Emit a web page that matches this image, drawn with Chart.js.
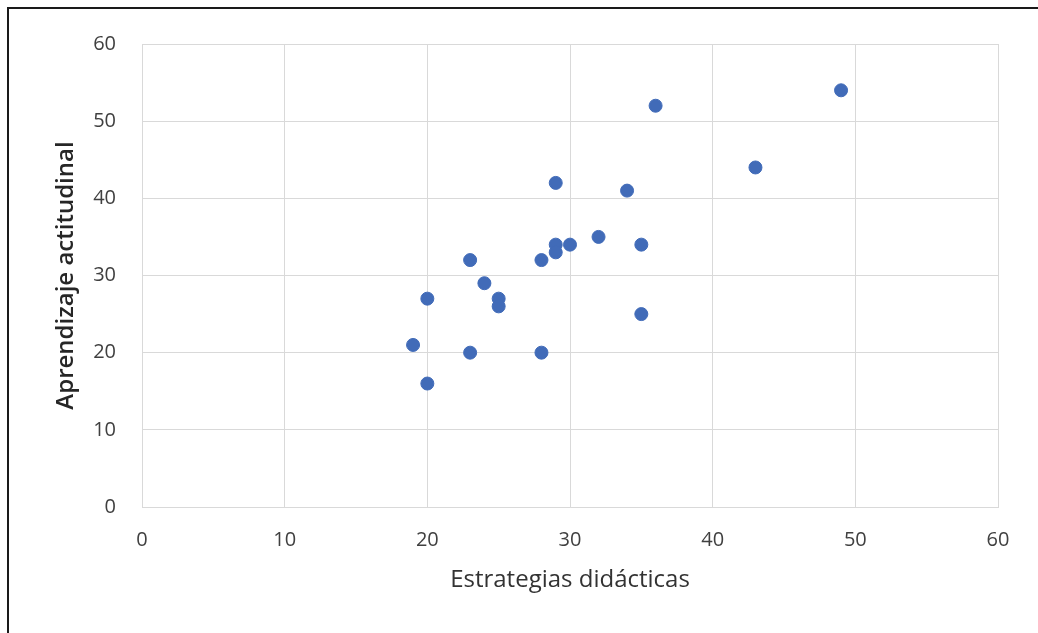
<!DOCTYPE html>
<html>
<head>
<meta charset="utf-8">
<script src="https://cdn.jsdelivr.net/npm/chart.js@4/dist/chart.umd.min.js"></script>
<style>
  body { margin: 0; background: #fff; }
  #wrap { position: relative; width: 1038px; height: 633px; overflow: hidden; }
  #frame { position: absolute; left: 7px; top: 7px; width: 1040px; height: 640px;
           border-left: 2px solid #1a1a1a; border-top: 2px solid #1a1a1a; }
  canvas { position: absolute; left: 0; top: 0; }
</style>
</head>
<body>
<div id="wrap">
  <div id="frame"></div>
  <canvas id="chart" width="1038" height="633"></canvas>
</div>
<script>
// Estrategias didácticas (x) vs Aprendizaje actitudinal (y)
const estrategias = [49, 36, 43, 29, 34, 32, 30, 29, 29, 35, 28, 23, 24, 25, 25, 20, 35, 19, 23, 28, 20];
const aprendizaje = [54, 52, 44, 42, 41, 35, 34, 34, 33, 34, 32, 32, 29, 27, 26, 27, 25, 21, 20, 20, 16];

const xTitle = 'Estrategias didácticas';
const yTitle = 'Aprendizaje actitudinal';

const points = estrategias.map((x, i) => ({ x: x, y: aprendizaje[i] }));

const tickFont = { family: 'Open Sans', size: 20 };

const ctx = document.getElementById('chart').getContext('2d');
const chart = new Chart(ctx, {
  type: 'scatter',
  data: {
    datasets: [{
      data: points,
      backgroundColor: '#416BB8',
      borderColor: '#416BB8',
      pointRadius: 6.5,
      pointHoverRadius: 6.5
    }]
  },
  options: {
    responsive: false,
    animation: false,
    layout: { padding: { left: 50, top: 44, right: 40, bottom: 38 } },
    plugins: { legend: { display: false }, tooltip: { enabled: false } },
    scales: {
      x: {
        min: 0, max: 60,
        ticks: { stepSize: 10, color: '#404040', padding: 21, font: tickFont },
        grid: { color: '#d9d9d9', lineWidth: 1, drawTicks: false },
        border: { color: '#d9d9d9' },
        title: { display: true, text: xTitle, color: '#333333', padding: 0,
                 font: { family: 'Open Sans', size: 24 } },
        afterFit: (s) => { s.height = 88; }
      },
      y: {
        min: 0, max: 60,
        ticks: { stepSize: 10, color: '#404040', padding: 26, font: tickFont },
        grid: { color: '#d9d9d9', lineWidth: 1, drawTicks: false },
        border: { color: '#d9d9d9' },
        title: { display: true, text: yTitle, color: '#262626', padding: { top: 2, bottom: 0 },
                 font: { family: 'Open Sans', size: 24, weight: '600' } },
        afterFit: (s) => { s.width = 92; }
      }
    }
  }
});
</script>
</body>
</html>
